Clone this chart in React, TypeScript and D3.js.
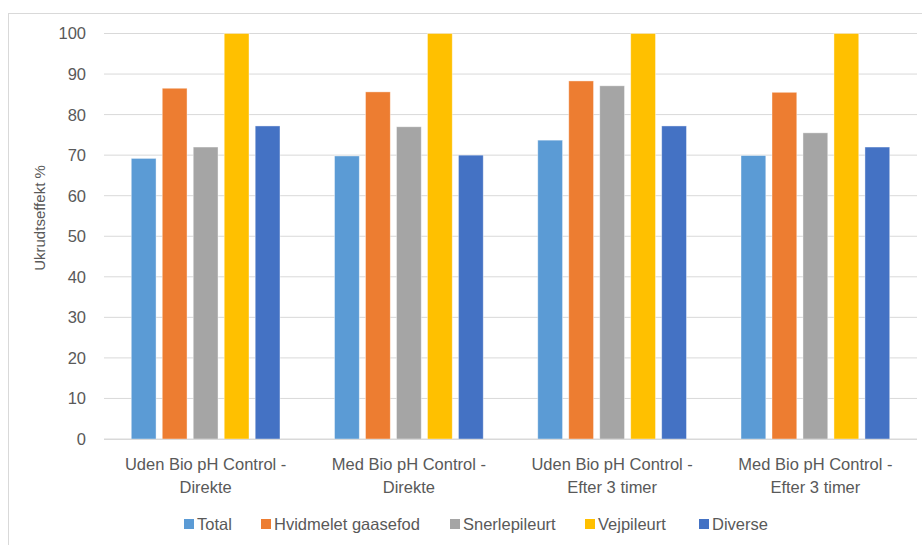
import React from "react";
import * as d3 from "d3";

const categories = [
  ["Uden Bio pH Control -", "Direkte"],
  ["Med Bio pH Control -", "Direkte"],
  ["Uden Bio pH Control -", "Efter 3 timer"],
  ["Med Bio pH Control -", "Efter 3 timer"],
];
const seriesNames = ["Total", "Hvidmelet gaasefod", "Snerlepileurt", "Vejpileurt", "Diverse"];
const total = [69.2, 69.8, 73.7, 69.9];
const hvidmelet = [86.5, 85.6, 88.3, 85.5];
const snerle = [72.0, 77.0, 87.1, 75.5];
const vejpil = [100, 100, 100, 100];
const diverse = [77.2, 70.0, 77.2, 72.0];
const seriesValues = [total, hvidmelet, snerle, vejpil, diverse];
const colors = ["#5b9bd5", "#ed7d31", "#a5a5a5", "#ffc000", "#4472c4"];
const yTicks = [0, 10, 20, 30, 40, 50, 60, 70, 80, 90, 100];
const yTitle = "Ukrudtseffekt %";

const W = 922, H = 545;
const plotL = 104, plotR = 917, plotT = 33.5, plotB = 439;
const font = "'Liberation Sans', Arial, sans-serif";

export default function App() {
  const y = d3.scaleLinear().domain([0, 100]).range([plotB, plotT]);
  const x0 = d3.scaleBand<number>().domain(d3.range(categories.length)).range([plotL, plotR]);
  const x1 = d3
    .scaleBand<number>()
    .domain(d3.range(seriesNames.length))
    .range([0, x0.bandwidth()])
    .paddingInner(0.2)
    .paddingOuter(0.88);

  const legendX = [184, 261, 450, 585, 699];

  return (
    <svg
      width={W}
      height={H}
      style={{ position: "absolute", left: 0, top: 0, background: "#fff" }}
      fontFamily={font}
    >
      <rect x={8.5} y={13.5} width={W + 10} height={H + 10} fill="#fff" stroke="#d9d9d9" />
      {yTicks.map((t) => (
        <g key={t}>
          <line x1={plotL} x2={plotR} y1={y(t)} y2={y(t)} stroke="#d9d9d9" strokeWidth={1} />
          <text x={86} y={y(t)} dy="0.36em" textAnchor="end" fontSize={16.5} fill="#595959">
            {t}
          </text>
        </g>
      ))}
      <text
        transform={`translate(40,218) rotate(-90)`}
        textAnchor="middle"
        dy="0.35em"
        fontSize={15}
        fill="#595959"
      >
        {yTitle}
      </text>
      {categories.map((c, ci) => (
        <g key={ci} transform={`translate(${x0(ci)},0)`}>
          {seriesValues.map((vals, si) => (
            <rect
              key={si}
              x={x1(si)}
              y={y(vals[ci])}
              width={x1.bandwidth()}
              height={y(0) - y(vals[ci])}
              fill={colors[si]}
              stroke="#fff"
              strokeOpacity={0.5}
              strokeWidth={0.8}
            />
          ))}
          {c.map((line, li) => (
            <text
              key={li}
              x={x0.bandwidth() / 2}
              y={464 + li * 23}
              dy="0.36em"
              textAnchor="middle"
              fontSize={16.5}
              fill="#595959"
            >
              {line}
            </text>
          ))}
        </g>
      ))}
      <line x1={plotL} x2={plotR} y1={plotB + 0.5} y2={plotB + 0.5} stroke="#d9d9d9" strokeWidth={1.2} />
      {seriesNames.map((s, si) => (
        <g key={s} transform={`translate(${legendX[si]},524)`}>
          <rect x={0} y={-5} width={10} height={10} fill={colors[si]} />
          <text x={13} y={0} dy="0.36em" fontSize={16.5} fill="#595959">
            {s}
          </text>
        </g>
      ))}
    </svg>
  );
}
